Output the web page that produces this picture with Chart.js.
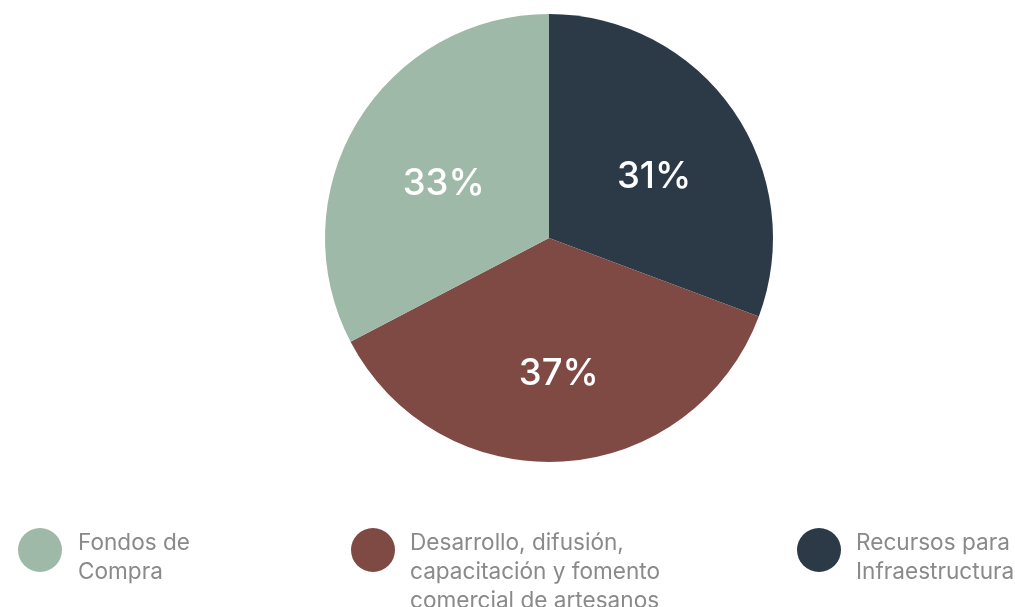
<!DOCTYPE html>
<html>
<head>
<meta charset="utf-8">
<script src="https://cdn.jsdelivr.net/npm/chart.js@4/dist/chart.umd.min.js"></script>
<style>
	html, body { margin: 0; padding: 0; background: #fff; }
	#wrap { position: relative; width: 1015px; height: 607px; overflow: hidden; }
	#pie { position: absolute; left: 0; top: 0; }
	.item { position: absolute; top: 528px; display: flex; align-items: flex-start; }
	.dot { width: 44px; height: 44px; border-radius: 50%; flex: none; }
	.txt { font-family: Inter, sans-serif; font-size: 22.6px; line-height: 29px; color: #8a8a8a; margin-top: -1px; white-space: nowrap; }
</style>
</head>
<body>
<div id="wrap">
	<canvas id="pie" width="1015" height="607"></canvas>
	<div id="legend"></div>
</div>
<script>
// slices clockwise from 12 o'clock
var categories = [
	['Recursos para', 'Infraestructura'],
	['Desarrollo, difusión,', 'capacitación y fomento', 'comercial de artesanos'],
	['Fondos de', 'Compra']
];
var values = [31, 37, 33];
var colors = ['#2c3a48', '#7f4944', '#9fb9a9'];

// legend order left to right, and where each item sits
var legendOrder = [2, 1, 0];
var legendLeft = [18, 351, 797];
var textGap = [16, 15, 15];

var legendEl = document.getElementById('legend');
legendOrder.forEach(function(idx, i) {
	var item = document.createElement('div');
	item.className = 'item';
	item.style.left = legendLeft[i] + 'px';
	var dot = document.createElement('div');
	dot.className = 'dot';
	dot.style.background = colors[idx];
	var txt = document.createElement('div');
	txt.className = 'txt';
	txt.style.marginLeft = textGap[i] + 'px';
	txt.innerHTML = categories[idx].join('<br>');
	item.appendChild(dot);
	item.appendChild(txt);
	legendEl.appendChild(item);
});

var sliceLabels = {
	id: 'sliceLabels',
	afterDatasetsDraw: function(chart) {
		var ctx = chart.ctx;
		var meta = chart.getDatasetMeta(0);
		ctx.save();
		ctx.font = '500 36.5px Inter, sans-serif';
		ctx.fillStyle = '#ffffff';
		ctx.textAlign = 'center';
		ctx.textBaseline = 'middle';
		meta.data.forEach(function(arc, i) {
			var p = arc.getProps(['x', 'y', 'startAngle', 'endAngle', 'outerRadius'], true);
			var mid = (p.startAngle + p.endAngle) / 2;
			var r = p.outerRadius * 0.56;
			ctx.fillText(values[i] + '%', p.x + Math.cos(mid) * r + 2, p.y + Math.sin(mid) * r + 11);
		});
		ctx.restore();
	}
};

new Chart(document.getElementById('pie'), {
	type: 'pie',
	data: {
		labels: categories,
		datasets: [{
			data: values,
			backgroundColor: colors,
			borderWidth: 0
		}]
	},
	options: {
		responsive: false,
		animation: false,
		layout: { padding: { top: 14, bottom: 145, left: 325, right: 242 } },
		plugins: {
			legend: { display: false },
			tooltip: { enabled: false }
		}
	},
	plugins: [sliceLabels]
});
</script>
</body>
</html>
